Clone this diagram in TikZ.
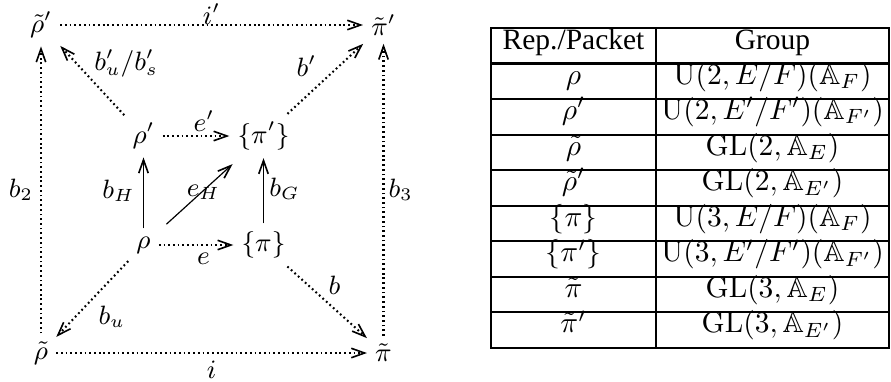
\documentclass[tikz,border=0pt]{standalone}
\usepackage{amssymb}
\usepackage{fontspec}
\newfontfamily\timesfont{Liberation Serif}
\usetikzlibrary{arrows.meta}
\begin{document}
\begin{tikzpicture}[x=0.339pt,y=-0.339pt,
  obj/.style={inner sep=2.6pt, font=\small},
  lab/.style={inner sep=0pt, font=\small, midway},
  tip/.style={-{Straight Barb[length=4.5pt,width=3.2pt,line width=0.55pt]}},
  dotarrow/.style={tip, line width=0.7pt, dash pattern=on 0.6pt off 1pt},
  solarrow/.style={tip, line width=0.6pt},
  thinarrow/.style={tip, line width=0.4pt},
  cell/.style={anchor=base, inner sep=0pt},
  tblouter/.style={line width=1pt},
  tblinner/.style={line width=0.7pt}
]
\useasboundingbox (0,0) rectangle (891,381);
% diagram nodes
\node[obj] (rtp) at (41,25) {$\tilde\rho'$};
\node[obj] (ptp) at (383.5,25) {$\tilde\pi'$};
\node[obj] (rp) at (143.5,136) {$\rho'$};
\node[obj] (pp) at (263.5,136) {$\{\pi'\}$};
\node[obj] (r) at (143.5,245) {$\rho$};
\node[obj] (p) at (263.5,245) {$\{\pi\}$};
\node[obj] (rt) at (41,353) {$\tilde\rho$};
\node[obj] (pt) at (383.5,353) {$\tilde\pi$};
% connectors
\draw[dotarrow] (rtp) -- node[lab, yshift=3.7pt] {$i'$} (ptp);
\draw[dotarrow] (rt) -- node[lab, yshift=-5.8pt] {$i$} (pt);
\draw[dotarrow] (rt) -- node[lab, xshift=-6.8pt] {$b_2$} (rtp);
\draw[dotarrow] (pt) -- node[lab, xshift=5.8pt] {$b_3$} (ptp);
\draw[dotarrow] (rp) -- node[lab, xshift=11.5pt, yshift=5.8pt] {$b'_u/b'_s$} (rtp);
\draw[dotarrow] (pp) -- node[lab, xshift=-6.4pt, yshift=4.4pt] {$b'$} (ptp);
\draw[dotarrow] (rp) -- node[lab, xshift=2.7pt, yshift=5.1pt] {$e'$} (pp);
\draw[dotarrow] (r) -- node[lab, xshift=2.5pt, yshift=-4.7pt] {$e$} (p);
\draw[dotarrow] (r) -- node[lab, xshift=6.6pt, yshift=-6.1pt] {$b_u$} (rt);
\draw[dotarrow] (p) -- node[lab, xshift=2.5pt, yshift=5.8pt] {$b$} (pt);
\draw[solarrow] (r) -- node[lab, xshift=-8.5pt, yshift=0.7pt] {$b_H$} (rp);
\draw[solarrow] (p) -- node[lab, xshift=7.1pt, yshift=0.7pt] {$b_G$} (pp);
\draw[thinarrow, shorten <=3.5pt, shorten >=3pt] (r) -- node[lab, xshift=1.5pt, yshift=0.7pt] {$e_H$} (pp);
% table
\draw[tblouter] (491,28) rectangle (889,348);
\draw[tblinner] (656,28) -- (656,348);
\foreach \k in {0,...,7} \draw[tblinner] (491,{63.5+35.5625*\k}) -- (889,{63.5+35.5625*\k});
\node[cell] (h1) at (573.5,49) {\timesfont Rep./Packet};
\node[cell] (h2) at (772.5,49) {\timesfont Group};
\foreach \k/\a/\b in {0/{\rho}/{\mathrm{U}(2,E/F)(\mathbb{A}_F)},
  1/{\rho'}/{\mathrm{U}(2,E'/F')(\mathbb{A}_{F'})},
  2/{\tilde\rho}/{\mathrm{GL}(2,\mathbb{A}_E)},
  3/{\tilde\rho'}/{\mathrm{GL}(2,\mathbb{A}_{E'})},
  4/{\{\pi\}}/{\mathrm{U}(3,E/F)(\mathbb{A}_F)},
  5/{\{\pi'\}}/{\mathrm{U}(3,E'/F')(\mathbb{A}_{F'})},
  6/{\tilde\pi}/{\mathrm{GL}(3,\mathbb{A}_E)},
  7/{\tilde\pi'}/{\mathrm{GL}(3,\mathbb{A}_{E'})}}
{
  \node[cell] (a\k) at (573.5,{84+35.5625*\k}) {$\a$};
  \node[cell] (g\k) at (772.5,{84+35.5625*\k}) {$\b$};
}
\end{tikzpicture}
\end{document}
